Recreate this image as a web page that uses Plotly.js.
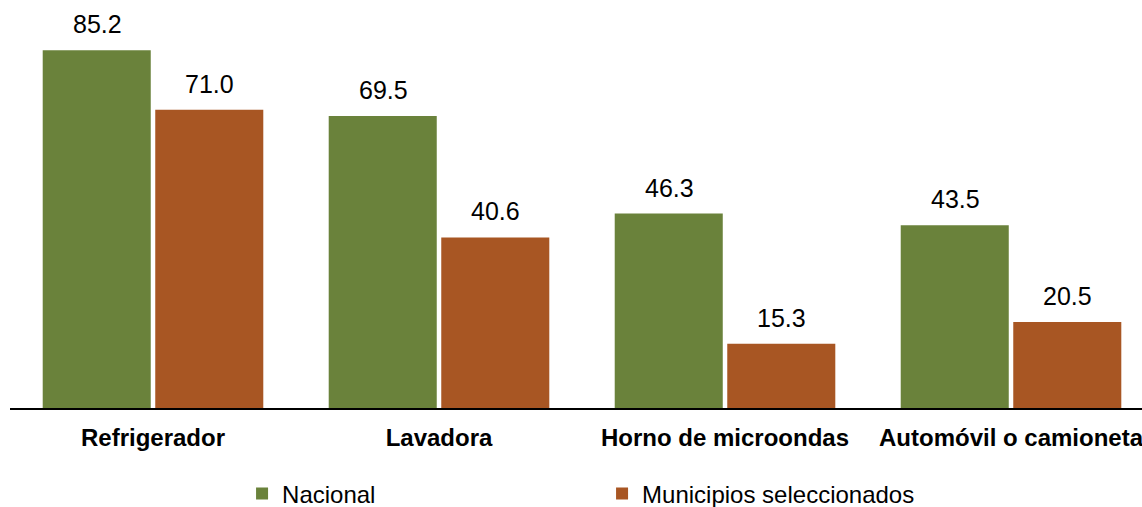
<!DOCTYPE html>
<html>
<head>
<meta charset="utf-8">
<script src="https://cdn.plot.ly/plotly-3.0.1.min.js"></script>
<style>html,body{margin:0;padding:0;background:#fff;overflow:hidden;}#chart{width:1142px;height:507px;}</style>
</head>
<body>
<div id="chart"></div>
<script>
const categories = ["Refrigerador", "Lavadora", "Horno de microondas", "Automóvil o camioneta"];
const nacional = [85.2, 69.5, 46.3, 43.5];
const municipios = [71.0, 40.6, 15.3, 20.5];
const seriesNames = ["Nacional", "Municipios seleccionados"];

const FONT = "Liberation Sans, Arial, sans-serif";
const green = "#6A823B";
const orange = "#A85623";

const traces = [
  {type: "bar", name: seriesNames[0], x: categories, y: nacional, marker: {color: green}, hoverinfo: "none"},
  {type: "bar", name: seriesNames[1], x: categories, y: municipios, marker: {color: orange}, hoverinfo: "none"}
];

const annotations = [];
[nacional, municipios].forEach((vals, si) => {
  vals.forEach((v, i) => {
    annotations.push({
      x: categories[i], y: v, xref: "x", yref: "y",
      text: v.toFixed(1), showarrow: false,
      xanchor: "center", yanchor: "bottom",
      xshift: si === 0 ? -56 : 56, yshift: 10,
      font: {family: FONT, size: 25, color: "#000"}
    });
  });
});

const layout = {
  width: 1142, height: 507,
  margin: {l: 10, r: 0, t: 30, b: 99, autoexpand: false},
  paper_bgcolor: "#fff", plot_bgcolor: "#fff",
  barmode: "group", bargap: 0.213, bargroupgap: 0.04,
  font: {family: FONT, size: 24, color: "#000"},
  xaxis: {
    type: "category", range: [-0.5, 3.458], automargin: false,
    showline: true, linecolor: "#000", linewidth: 2,
    ticks: "", showgrid: false, zeroline: false,
    tickfont: {family: FONT, size: 24, color: "#000", weight: "bold"},
    ticklabelstandoff: 7, fixedrange: true
  },
  yaxis: {
    range: [0, 90], visible: false, showgrid: false, zeroline: false, fixedrange: true
  },
  showlegend: true,
  legend: {
    orientation: "h", x: 0.205, xanchor: "left", y: -0.2275, yanchor: "middle",
    entrywidth: 315, entrywidthmode: "pixels",
    font: {family: FONT, size: 24, color: "#000"},
    bgcolor: "rgba(0,0,0,0)"
  },
  annotations: annotations
};

Plotly.newPlot("chart", traces, layout, {displayModeBar: false, staticPlot: true});
</script>
</body>
</html>
